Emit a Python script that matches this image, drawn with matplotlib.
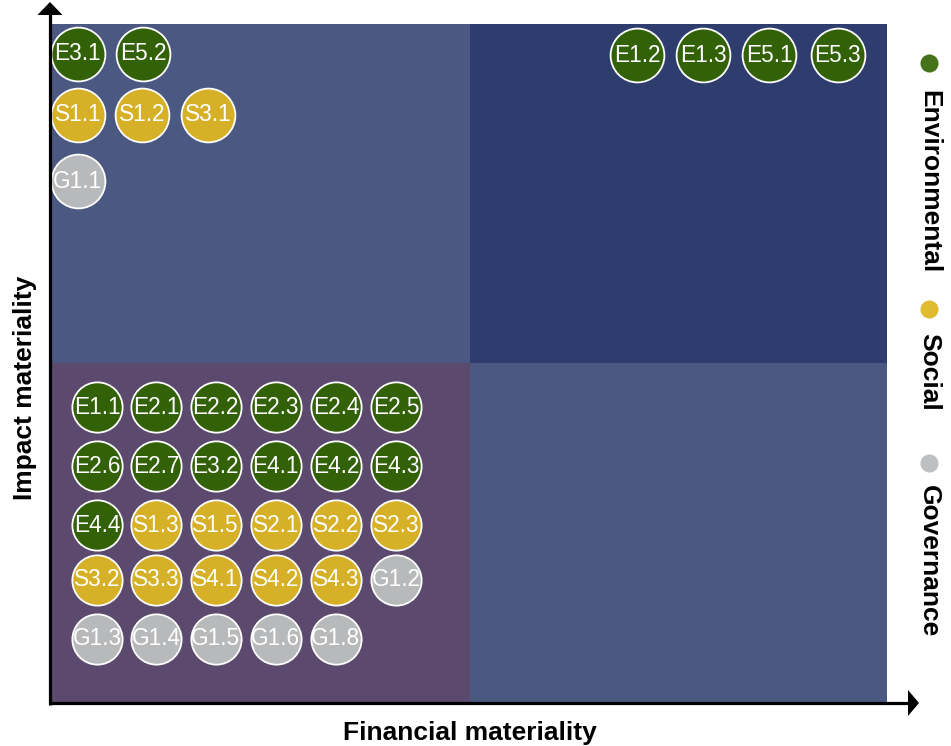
import matplotlib
matplotlib.use("Agg")
import matplotlib.pyplot as plt
from matplotlib.patches import Rectangle, Polygon
from matplotlib.lines import Line2D

# ---------------- data ----------------
topics = ["E3.1", "E5.2", "S1.1", "S1.2", "S3.1", "G1.1",
          "E1.2", "E1.3", "E5.1", "E5.3",
          "E1.1", "E2.1", "E2.2", "E2.3", "E2.4", "E2.5",
          "E2.6", "E2.7", "E3.2", "E4.1", "E4.2", "E4.3",
          "E4.4", "S1.3", "S1.5", "S2.1", "S2.2", "S2.3",
          "S3.2", "S3.3", "S4.1", "S4.2", "S4.3", "G1.2",
          "G1.3", "G1.4", "G1.5", "G1.6", "G1.8"]
financial = [0.31, 1.09, 0.31, 1.08, 1.87, 0.31,
             7.01, 7.80, 8.59, 9.41,
             0.54, 1.25, 1.96, 2.68, 3.40, 4.12,
             0.54, 1.25, 1.96, 2.68, 3.40, 4.12,
             0.54, 1.25, 1.96, 2.68, 3.40, 4.12,
             0.54, 1.25, 1.96, 2.68, 3.40, 4.12,
             0.54, 1.25, 1.96, 2.68, 3.40]
impact = [9.56, 9.56, 8.66, 8.66, 8.66, 7.68,
          9.54, 9.54, 9.54, 9.54,
          4.35, 4.35, 4.35, 4.35, 4.35, 4.35,
          3.48, 3.48, 3.48, 3.48, 3.48, 3.48,
          2.61, 2.61, 2.61, 2.61, 2.61, 2.61,
          1.80, 1.80, 1.80, 1.80, 1.80, 1.80,
          0.93, 0.93, 0.93, 0.93, 0.93]
categories = ["Environmental", "Social", "Governance"]
x_label = "Financial materiality"
y_label = "Impact materiality"

# ---------------- style ----------------
W, H = 951, 746
bubble_colors = {"E": "#336108", "S": "#D6B026", "G": "#B8B9BB"}
legend_colors = {"Environmental": "#467319", "Social": "#E1BB2F", "Governance": "#BEBFC1"}
quad_colors = {"tl": "#4A5882", "tr": "#2E3D6D", "bl": "#5C4A6E", "br": "#4A5882"}
font = "Liberation Sans"

fig = plt.figure(figsize=(W / 100, H / 100), dpi=100)
fig.patch.set_facecolor("white")


def fx(px):
    return px / W


def fy(py):
    return 1 - py / H


ax = fig.add_axes([fx(52), fy(702), (887 - 52) / W, (702 - 24) / H])
ax.set_xlim(0, 10)
ax.set_ylim(0, 10)
ax.axis("off")

# quadrants
ax.add_patch(Rectangle((0, 5), 5, 5, facecolor=quad_colors["tl"], edgecolor="none", zorder=0))
ax.add_patch(Rectangle((5, 5), 5, 5, facecolor=quad_colors["tr"], edgecolor="none", zorder=0))
ax.add_patch(Rectangle((0, 0), 5, 5, facecolor=quad_colors["bl"], edgecolor="none", zorder=0))
ax.add_patch(Rectangle((5, 0), 5, 5, facecolor=quad_colors["br"], edgecolor="none", zorder=0))

# bubbles
for t, x, y in zip(topics, financial, impact):
    size = 1500 if y > 5 else 1310
    ax.scatter([x], [y], s=size, c=bubble_colors[t[0]], edgecolors="white",
               linewidths=1.3, zorder=3, clip_on=False)
    ax.text(x, y, t, ha="center", va="center", color="white", fontsize=16.3,
            family=font, zorder=4)

# axes arrows (figure coordinates)
lw = 3.2 * 72 / 100
fig.add_artist(Line2D([fx(50), fx(50)], [fy(705), fy(12)], color="black", lw=lw,
                      transform=fig.transFigure, solid_capstyle="butt"))
fig.add_artist(Line2D([fx(48.5), fx(910)], [fy(703), fy(703)], color="black", lw=lw,
                      transform=fig.transFigure, solid_capstyle="butt"))
fig.add_artist(Polygon([[fx(50), fy(2)], [fx(37.5), fy(15)], [fx(62.5), fy(15)]],
                       closed=True, facecolor="black", edgecolor="none",
                       transform=fig.transFigure))
fig.add_artist(Polygon([[fx(919), fy(703)], [fx(908), fy(690)], [fx(908), fy(716)]],
                       closed=True, facecolor="black", edgecolor="none",
                       transform=fig.transFigure))

# axis labels
fig.text(fx(470), fy(733), x_label, ha="center", va="center", fontsize=19,
         fontweight="bold", family=font)
fig.text(fx(25), fy(388), y_label, ha="center", va="center", fontsize=19,
         fontweight="bold", family=font, rotation=90)

# legend (vertical, rotated)
legend_dot_y = [63, 309, 463]
legend_text_top = [90, 333, 485]
for cat, dy, ty in zip(categories, legend_dot_y, legend_text_top):
    fig.add_artist(Line2D([fx(929)], [fy(dy)], marker="o", markersize=13,
                          markerfacecolor=legend_colors[cat], markeredgecolor="none",
                          linestyle="none", transform=fig.transFigure))
    fig.text(fx(929), fy(ty), cat, ha="center", va="top", fontsize=19,
             fontweight="bold", family=font, rotation=-90)

fig.savefig("out.png", dpi=100)
